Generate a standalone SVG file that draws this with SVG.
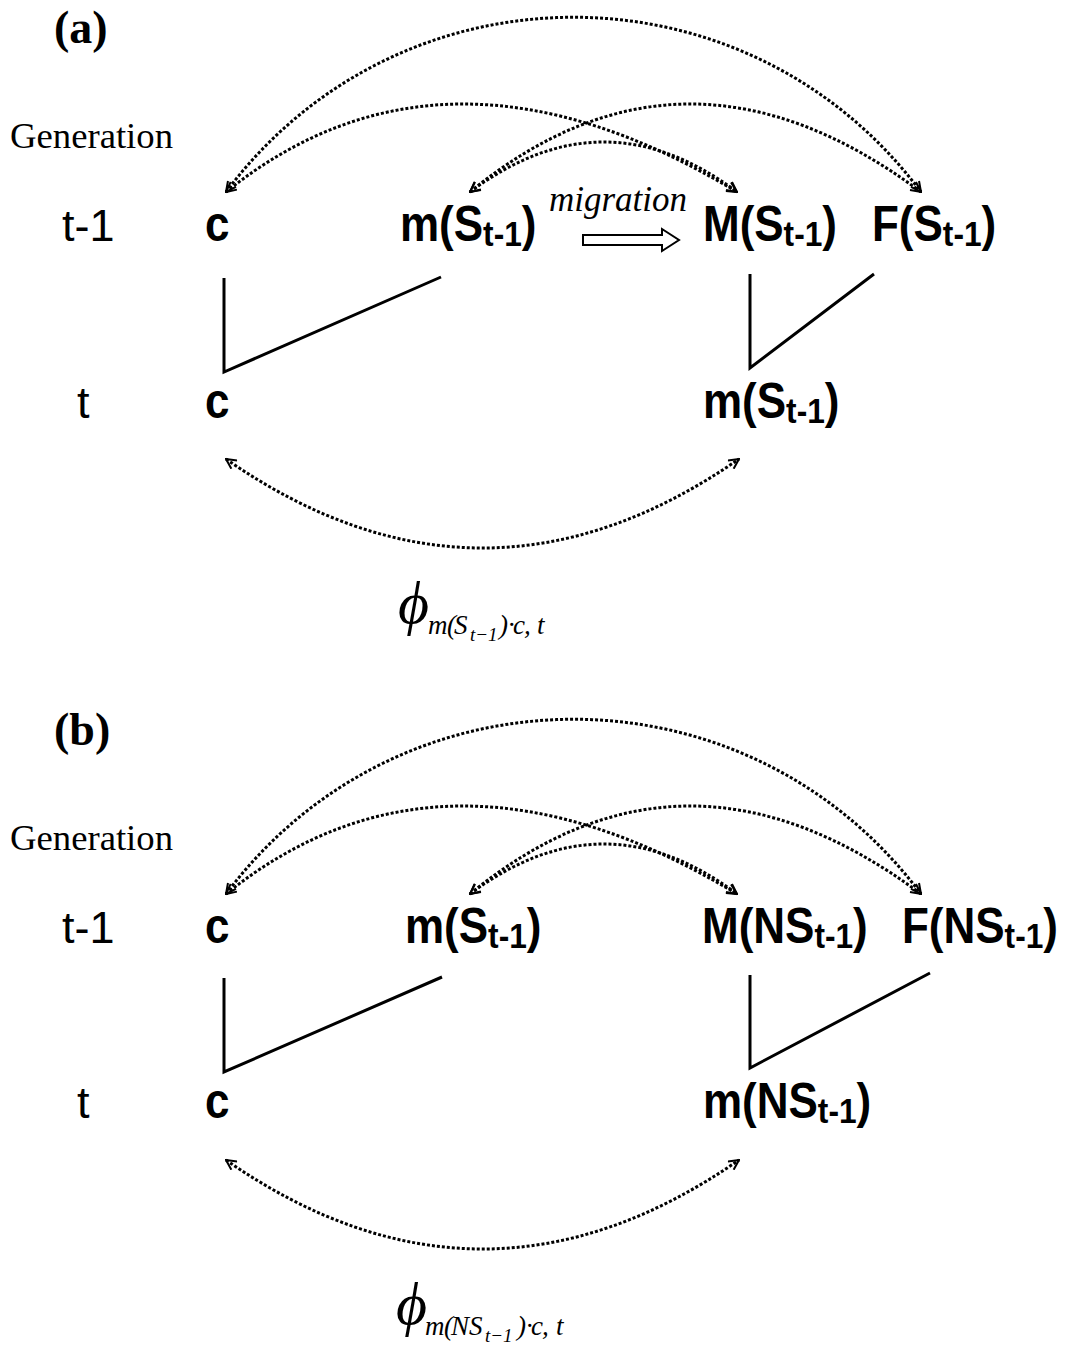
<svg xmlns="http://www.w3.org/2000/svg" width="1081" height="1347" viewBox="0 0 1081 1347">
<defs>
<marker id="ah" viewBox="0 0 12 12" refX="11" refY="6" markerWidth="12" markerHeight="12" markerUnits="userSpaceOnUse" orient="auto-start-reverse">
<path d="M1,1 L11,6 L1,11" fill="none" stroke="#000" stroke-width="2"/>
</marker>
</defs>
<style>
.lbl{font-family:"Liberation Sans",Arial,sans-serif;font-size:50px;font-weight:bold;fill:#000}
.sub{font-size:36px}
.row{font-family:"Liberation Sans",Arial,sans-serif;font-size:45px;fill:#000}
.gen{font-family:"Liberation Serif","Times New Roman",serif;font-size:36px;fill:#000}
.panel{font-family:"Liberation Serif","Times New Roman",serif;font-size:46px;font-weight:bold;fill:#000}
.math{font-family:"Liberation Serif","Times New Roman",serif;font-style:italic;fill:#000}
.dot{fill:none;stroke:#000;stroke-width:3;stroke-dasharray:3 2;marker-start:url(#ah);marker-end:url(#ah)}
.ln{fill:none;stroke:#000;stroke-width:3}
</style>

<!-- Panel (a) -->
<text class="panel" x="54" y="43">(a)</text>
<text class="gen" x="10" y="148" textLength="163" lengthAdjust="spacingAndGlyphs">Generation</text>
<text class="row" x="62" y="241">t-1</text>
<text class="row" x="77" y="418">t</text>

<g id="a-c-t1"><text class="lbl" transform="translate(205,241) scale(0.88,1)">c</text></g>
<g id="a-mS-t1"><text class="lbl" transform="translate(400,241) scale(0.88,1)">m(S<tspan class="sub" dy="5">t-1</tspan><tspan dy="-5">)</tspan></text></g>
<g id="a-MS-t1"><text class="lbl" transform="translate(703,241) scale(0.88,1)">M(S<tspan class="sub" dy="5">t-1</tspan><tspan dy="-5">)</tspan></text></g>
<g id="a-FS-t1"><text class="lbl" transform="translate(872,241) scale(0.88,1)">F(S<tspan class="sub" dy="5">t-1</tspan><tspan dy="-5">)</tspan></text></g>
<g id="a-c-t"><text class="lbl" transform="translate(205,418) scale(0.88,1)">c</text></g>
<g id="a-mS-t"><text class="lbl" transform="translate(703,418) scale(0.88,1)">m(S<tspan class="sub" dy="5">t-1</tspan><tspan dy="-5">)</tspan></text></g>
<g id="a-migration">
<text class="math" x="549" y="211" font-size="35">migration</text>
<polygon points="583,235 662,235 662,229 679,240 662,251 662,245 583,245" fill="#fff" stroke="#000" stroke-width="2"/>
</g>
<g id="a-phi">
<text class="math" x="398" y="623" font-size="60">ϕ</text>
<text class="math" font-size="27" y="634"><tspan x="428">m</tspan><tspan x="447">(</tspan><tspan x="454">S</tspan><tspan x="470" dy="7" font-size="19">t−1</tspan><tspan x="499" dy="-7">)</tspan><tspan x="508">·</tspan><tspan x="513">c</tspan><tspan x="524">,</tspan><tspan x="537">t</tspan></text>
</g>

<g id="a-connectors">
<path class="ln" d="M224,278 V372 L441,277"/>
<path class="ln" d="M750,274 V368 L874,274"/>
<path class="dot" d="M226,192 C400,-41 747,-41 921,192"/>
<path class="dot" d="M226,192 Q445,16 737,192"/>
<path class="dot" d="M470,192 Q685,16 921,192"/>
<path class="dot" d="M470,192 Q604,92 737,192"/>
<path class="dot" d="M226,459 Q482,637 739,459"/>
</g>

<!-- Panel (b) -->
<text class="panel" x="54" y="745">(b)</text>
<text class="gen" x="10" y="850" textLength="163" lengthAdjust="spacingAndGlyphs">Generation</text>
<text class="row" x="62" y="943">t-1</text>
<text class="row" x="77" y="1118">t</text>

<g id="b-c-t1"><text class="lbl" transform="translate(205,943) scale(0.88,1)">c</text></g>
<g id="b-mS-t1"><text class="lbl" transform="translate(405,943) scale(0.88,1)">m(S<tspan class="sub" dy="5">t-1</tspan><tspan dy="-5">)</tspan></text></g>
<g id="b-MNS-t1"><text class="lbl" transform="translate(702,943) scale(0.88,1)">M(NS<tspan class="sub" dy="5">t-1</tspan><tspan dy="-5">)</tspan></text></g>
<g id="b-FNS-t1"><text class="lbl" transform="translate(902,943) scale(0.88,1)">F(NS<tspan class="sub" dy="5">t-1</tspan><tspan dy="-5">)</tspan></text></g>
<g id="b-c-t"><text class="lbl" transform="translate(205,1118) scale(0.88,1)">c</text></g>
<g id="b-mNS-t"><text class="lbl" transform="translate(703,1118) scale(0.88,1)">m(NS<tspan class="sub" dy="5">t-1</tspan><tspan dy="-5">)</tspan></text></g>
<g id="b-phi">
<text class="math" x="396" y="1324" font-size="60">ϕ</text>
<text class="math" font-size="27" y="1335"><tspan x="425">m</tspan><tspan x="444">(</tspan><tspan x="451">N</tspan><tspan x="469">S</tspan><tspan x="485" dy="7" font-size="19">t−1</tspan><tspan x="517" dy="-7">)</tspan><tspan x="526">·</tspan><tspan x="531">c</tspan><tspan x="542">,</tspan><tspan x="556">t</tspan></text>
</g>

<g id="b-connectors">
<path class="ln" d="M224,978 V1072 L442,977"/>
<path class="ln" d="M750,975 V1068 L930,973"/>
<path class="dot" d="M226,894 C400,661 747,661 921,894"/>
<path class="dot" d="M226,894 Q445,718 737,894"/>
<path class="dot" d="M470,894 Q685,718 921,894"/>
<path class="dot" d="M470,894 Q604,794 737,894"/>
<path class="dot" d="M226,1160 Q482,1338 739,1160"/>
</g>
</svg>
